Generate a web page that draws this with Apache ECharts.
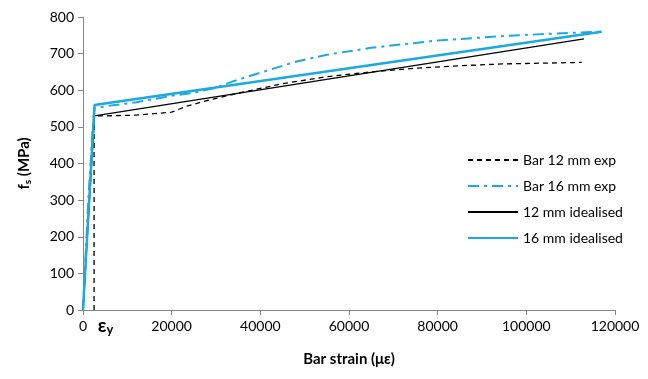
<!DOCTYPE html>
<html>
<head>
<meta charset="utf-8">
<script src="https://cdn.jsdelivr.net/npm/echarts@6/dist/echarts.min.js"></script>
<style>
  html, body { margin: 0; padding: 0; background: #fff; }
  #main { width: 648px; height: 379px; }
</style>
</head>
<body>
<div id="main"></div>
<script>
// strain (με), stress (MPa) pairs
var bar12Exp = [[2500, 0], [2500, 530], [5000, 530], [12000, 532], [20000, 540], [23000, 555], [28000, 572], [35000, 592], [45000, 618], [55000, 637], [65000, 650], [75000, 660], [85000, 667], [95000, 672], [112500, 676]];
var bar16Exp = [[0, 0], [1200, 300], [2200, 500], [2600, 550], [6000, 558], [12000, 567], [20000, 585], [25000, 593], [30000, 607], [34000, 625], [40000, 648], [48000, 678], [55000, 697], [65000, 716], [80000, 736], [95000, 748], [105000, 754], [117000, 760]];
var ideal12 = [[0, 0], [2600, 530], [113000, 740]];
var ideal16 = [[0, 0], [2600, 560], [117000, 760]];
var epsY = 2600;

var byId = function(id) {
	return document.getElementById(id);
};

var chart = echarts.init(byId('main'));
var font = 'Lato, "Open Sans", sans-serif';
var blue = '#1BA9E1';

chart.setOption({
	animation: false,
	textStyle: { fontFamily: font },
	grid: { left: 83, right: 33, top: 17, bottom: 69 },
	legend: {
		orient: 'vertical',
		left: 462,
		top: 148,
		itemWidth: 50,
		itemHeight: 10,
		itemGap: 12,
		itemStyle: { opacity: 0 },
		textStyle: { fontSize: 14, color: '#000', fontFamily: font },
		data: ['Bar 12 mm exp', 'Bar 16 mm exp', '12 mm idealised', '16 mm idealised']
	},
	xAxis: {
		type: 'value',
		min: 0,
		max: 120000,
		interval: 20000,
		axisLine: { lineStyle: { color: '#868686', width: 1 } },
		axisTick: { show: true, length: 5, lineStyle: { color: '#868686' } },
		splitLine: { show: false },
		axisLabel: { color: '#000', fontSize: 14, margin: 9, formatter: function(v) { return String(v); } },
		name: 'Bar strain (με)',
		nameLocation: 'middle',
		nameGap: 42,
		nameTextStyle: { fontSize: 15, fontWeight: 'bold', color: '#000' }
	},
	yAxis: {
		type: 'value',
		min: 0,
		max: 800,
		interval: 100,
		axisLine: { show: true, lineStyle: { color: '#868686', width: 1 } },
		axisTick: { show: true, length: 5, lineStyle: { color: '#868686' } },
		splitLine: { show: false },
		axisLabel: { color: '#000', fontSize: 14, margin: 9 },
		name: '{b|f}{s|s}{b| (MPa)}',
		nameLocation: 'middle',
		nameGap: 50,
		nameRotate: 90,
		nameTextStyle: {
			rich: {
				b: { fontSize: 15, fontWeight: 'bold', color: '#000', fontFamily: font },
				s: { fontSize: 10, fontWeight: 'bold', color: '#000', fontFamily: font, verticalAlign: 'bottom', padding: [8, 0, 0, 0] }
			}
		}
	},
	series: [{
		name: 'Bar 12 mm exp',
		type: 'line',
		symbol: 'none',
		data: bar12Exp,
		lineStyle: { color: '#000', width: 1.3, type: [5, 4] },
		itemStyle: { color: '#000' },
		markPoint: {
			symbol: 'circle',
			symbolSize: 1,
			silent: true,
			itemStyle: { color: 'rgba(0,0,0,0)' },
			data: [{ coord: [epsY, 0] }],
			label: {
				show: true,
				position: 'bottom',
				offset: [11, -1],
				formatter: '{e|ε}{y|y}',
				rich: {
					e: { fontSize: 19, fontWeight: 'bold', color: '#000', fontFamily: font },
					y: { fontSize: 13, fontWeight: 'bold', color: '#000', fontFamily: font, padding: [9, 0, 0, 0] }
				}
			}
		}
	}, {
		name: 'Bar 16 mm exp',
		type: 'line',
		symbol: 'none',
		data: bar16Exp,
		lineStyle: { color: blue, width: 2, type: [11, 5, 3, 5] },
		itemStyle: { color: blue }
	}, {
		name: '12 mm idealised',
		type: 'line',
		symbol: 'none',
		data: ideal12,
		lineStyle: { color: '#000', width: 1.3 },
		itemStyle: { color: '#000' }
	}, {
		name: '16 mm idealised',
		type: 'line',
		symbol: 'none',
		data: ideal16,
		lineStyle: { color: blue, width: 2.5 },
		itemStyle: { color: blue }
	}]
});
</script>
</body>
</html>
